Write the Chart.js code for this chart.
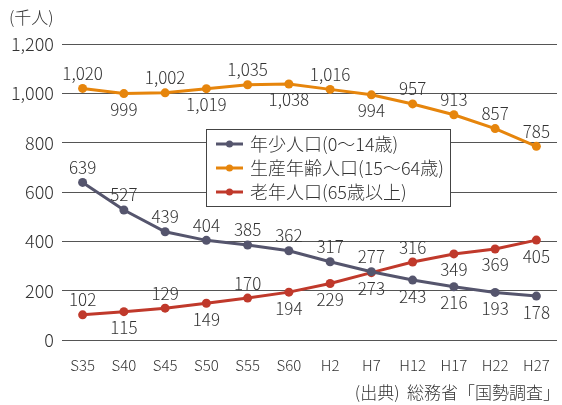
<html lang="ja">
<head>
<meta charset="UTF-8">
<title>人口推移</title>
<script src="https://cdn.jsdelivr.net/npm/chart.js@4.4.0/dist/chart.umd.min.js"></script>
<style>
  body { margin: 0; background: #fff; }
  #wrap { position: relative; width: 562px; height: 405px; }
</style>
</head>
<body>
<div id="wrap"><canvas id="myChart" width="562" height="405"></canvas></div>
<script>
const years = ['S35', 'S40', 'S45', 'S50', 'S55', 'S60', 'H2', 'H7', 'H12', 'H17', 'H22', 'H27'];
const young = [639, 527, 439, 404, 385, 362, 317, 277, 243, 216, 193, 178];
const working = [1020, 999, 1002, 1019, 1035, 1038, 1016, 994, 957, 913, 857, 785];
const elderly = [102, 115, 129, 149, 170, 194, 229, 273, 316, 349, 369, 405];
const yTicks = [0, 200, 400, 600, 800, 1000, 1200];

// label above (a) or below (b) the point
const youngPos = ['a','a','a','a','a','a','a','a','b','b','b','b'];
const workingPos = ['a','b','a','b','a','b','a','b','a','a','a','a'];
const elderlyPos = ['a','b','a','b','a','b','b','b','a','b','b','b'];

const FONT = '"Noto Sans CJK JP", "Noto Sans", sans-serif';
const TXT = '#333';

const labelPlugin = {
    id: 'pointLabels',
    afterDatasetsDraw(chart) {
        const ctx = chart.ctx;
        ctx.save();
        ctx.font = '300 17px ' + FONT;
        ctx.fillStyle = TXT;
        ctx.textAlign = 'center';
        ctx.textBaseline = 'middle';
        chart.data.datasets.forEach((ds, i) => {
            chart.getDatasetMeta(i).data.forEach((pt, j) => {
                const up = ds.labelPos[j] === 'a';
                ctx.fillText(ds.data[j].toLocaleString('en-US'), pt.x, up ? pt.y - 15 : pt.y + 16);
            });
        });
        ctx.restore();
    }
};

const legendPlugin = {
    id: 'boxLegend',
    afterDraw(chart) {
        const ctx = chart.ctx;
        ctx.save();
        ctx.fillStyle = '#fff';
        ctx.fillRect(206, 129, 244, 77);
        ctx.strokeStyle = '#444';
        ctx.lineWidth = 1;
        ctx.strokeRect(206.5, 129.5, 244, 77);
        ctx.font = '300 18px ' + FONT;
        ctx.textBaseline = 'middle';
        ctx.textAlign = 'left';
        chart.data.datasets.forEach((ds, i) => {
            const y = 144 + i * 24;
            ctx.strokeStyle = ds.borderColor;
            ctx.lineWidth = 3;
            ctx.beginPath();
            ctx.moveTo(216, y);
            ctx.lineTo(243, y);
            ctx.stroke();
            ctx.fillStyle = ds.borderColor;
            ctx.beginPath();
            ctx.arc(229.5, y, 3.5, 0, Math.PI * 2);
            ctx.fill();
            ctx.fillStyle = TXT;
            ctx.fillText(ds.label, 250, y);
        });
        // unit and source
        ctx.font = '300 17px ' + FONT;
        ctx.fillText('(千人)', 9, 18);
        ctx.textAlign = 'right';
        ctx.fillText('(出典)  総務省「国勢調査」', 560, 393);
        ctx.restore();
    }
};

const ctx = document.getElementById('myChart').getContext('2d');
new Chart(ctx, {
    type: 'line',
    data: {
        labels: years,
        datasets: [
            { label: '年少人口(0〜14歳)', data: young, labelPos: youngPos,
              borderColor: '#55556d', backgroundColor: '#55556d' },
            { label: '生産年齢人口(15〜64歳)', data: working, labelPos: workingPos,
              borderColor: '#e6850c', backgroundColor: '#e6850c' },
            { label: '老年人口(65歳以上)', data: elderly, labelPos: elderlyPos,
              borderColor: '#c0392b', backgroundColor: '#c0392b' }
        ]
    },
    plugins: [labelPlugin, legendPlugin],
    options: {
        responsive: false,
        animation: false,
        layout: { padding: { top: 44, right: 5, left: 0, bottom: 0 } },
        elements: {
            line: { borderWidth: 3, tension: 0 },
            point: { radius: 4.5, borderWidth: 0 }
        },
        plugins: { legend: { display: false }, tooltip: { enabled: false } },
        scales: {
            x: {
                offset: true,
                grid: { display: false },
                border: { display: false },
                ticks: { color: TXT, font: { family: FONT, size: 15, weight: 300 }, padding: 8 },
                afterFit(s) { s.height = 65; }
            },
            y: {
                min: 0, max: 1200,
                afterBuildTicks(s) { s.ticks = yTicks.map(v => ({ value: v })); },
                grid: { color: '#555', lineWidth: 1, drawTicks: false },
                border: { display: false },
                ticks: {
                    color: TXT, font: { family: FONT, size: 18, weight: 300 }, padding: 8,
                    callback: v => v.toLocaleString('en-US')
                },
                afterFit(s) { s.width = 62; }
            }
        }
    }
});
</script>
</body>
</html>
